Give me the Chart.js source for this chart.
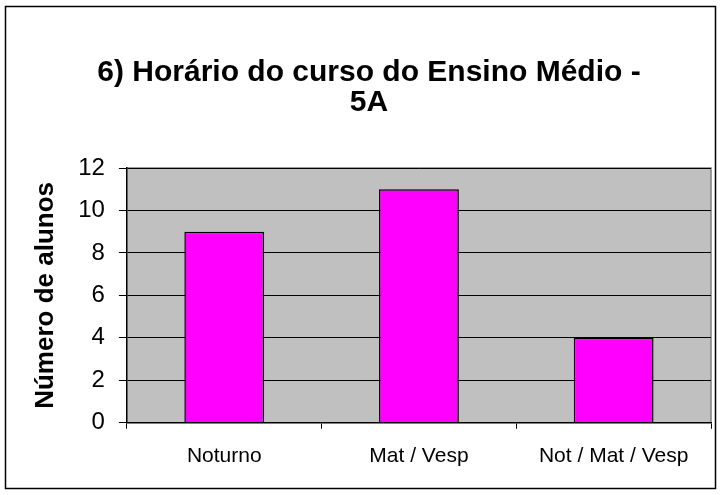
<!DOCTYPE html>
<html lang="pt-BR">
<head>
    <meta charset="UTF-8">
    <title>Horário do curso</title>
    <script src="https://cdn.jsdelivr.net/npm/chart.js"></script>
    <style>
        body { margin: 0; background: #fff; }
        #box { width: 721px; height: 495px; }
    </style>
</head>
<body>
    <div id="box"><canvas id="barra" width="721" height="495"></canvas></div>
<script>
    const categorias = ['Noturno', 'Mat / Vesp', 'Not / Mat / Vesp'];
    const alunos = [9, 11, 4];
    const titulo = ['6) Horário do curso do Ensino Médio -', '5A'];
    const tituloY = 'Número de alunos';

    const fonte = 'Liberation Sans, Arial';

    // fundo cinza da area do grafico + moldura externa
    const fundo = {
        id: 'fundo',
        beforeDraw(chart) {
            const { ctx, chartArea: a } = chart;
            ctx.save();
            ctx.fillStyle = '#fff';
            ctx.fillRect(0, 0, chart.width, chart.height);
            ctx.fillStyle = '#c0c0c0';
            ctx.fillRect(a.left, a.top, a.right - a.left, a.bottom - a.top);
            ctx.strokeStyle = '#808080';
            ctx.lineWidth = 1.5;
            ctx.beginPath();
            ctx.moveTo(a.left, a.top);
            ctx.lineTo(a.right, a.top);
            ctx.lineTo(a.right, a.bottom);
            ctx.stroke();
            ctx.strokeStyle = '#000';
            ctx.lineWidth = 1.5;
            ctx.strokeRect(5.5, 6.5, chart.width - 11, chart.height - 13);
            ctx.restore();
        }
    };

    new Chart(document.getElementById('barra'), {
        type: 'bar',
        data: {
            labels: categorias,
            datasets: [{
                label: tituloY,
                data: alunos,
                backgroundColor: '#ff00ff',
                borderColor: '#000',
                borderWidth: 1.5,
                barPercentage: 0.41,
                categoryPercentage: 1
            }]
        },
        options: {
            responsive: false,
            animation: false,
            layout: { padding: { left: 27, right: 10, top: 52, bottom: 11 } },
            scales: {
                x: {
                    grid: { display: true, drawOnChartArea: false, offset: true, color: '#000', tickLength: 6 },
                    border: { color: '#000', width: 1.5 },
                    ticks: { color: '#000', font: { family: fonte, size: 21 }, padding: 15 }
                },
                y: {
                    min: 0,
                    max: 12,
                    ticks: { stepSize: 2, color: '#000', font: { family: fonte, size: 24 }, padding: 14 },
                    grid: { color: '#000', lineWidth: 1, tickLength: 8 },
                    border: { color: '#000', width: 1.5 },
                    title: {
                        display: true,
                        text: tituloY,
                        color: '#000',
                        font: { family: fonte, size: 26, weight: 'bold' },
                        padding: 3
                    }
                }
            },
            plugins: {
                legend: { display: false },
                tooltip: { enabled: false },
                title: {
                    display: true,
                    text: titulo,
                    color: '#000',
                    font: { family: fonte, size: 30, weight: 'bold', lineHeight: 1.0 },
                    padding: { top: 6, bottom: 50 }
                }
            }
        },
        plugins: [fundo]
    });
</script>
</body>
</html>
